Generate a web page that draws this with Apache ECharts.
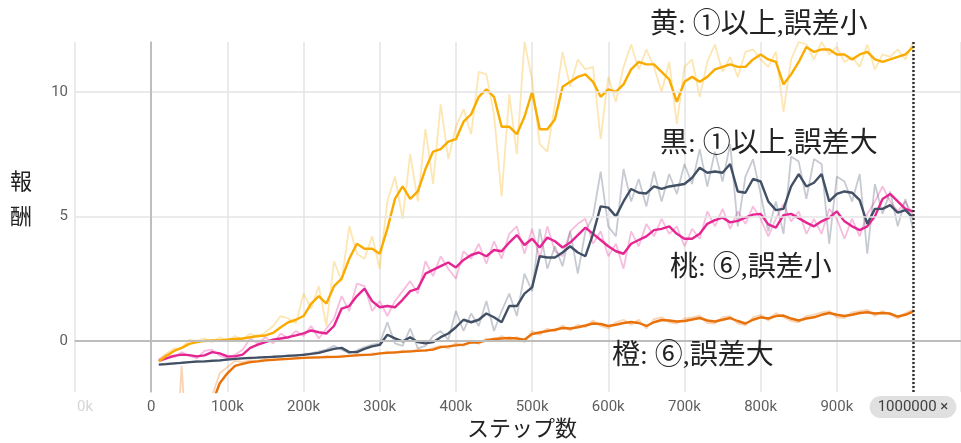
<!DOCTYPE html>
<html>
<head>
<meta charset="utf-8">
<script src="https://cdn.jsdelivr.net/npm/echarts@6/dist/echarts.min.js"></script>
<style>
  html, body { margin: 0; padding: 0; background: #fff; }
  #chart { width: 961px; height: 443px; }
</style>
</head>
<body>
<div id="chart"></div>
<script>
// ステップ (k)
const steps = [10,20,30,40,50,60,70,80,90,100,110,120,130,140,150,160,170,180,190,200,
  210,220,230,240,250,260,270,280,290,300,310,320,330,340,350,360,370,380,390,400,
  410,420,430,440,450,460,470,480,490,500,510,520,530,540,550,560,570,580,590,600,
  610,620,630,640,650,660,670,680,690,700,710,720,730,740,750,760,770,780,790,800,
  810,820,830,840,850,860,870,880,890,900,910,920,930,940,950,960,970,980,990,1000]

const xTicksK = [-100,0,100,200,300,400,500,600,700,800,900,1000]
const yTicks = [0, 5, 10]

// 黄: ①以上,誤差小
const yellowSmooth = [-0.82,-0.6,-0.4,-0.28,-0.12,-0.05,0.0,0.02,0.02,0.05,
  0.08,0.1,0.15,0.2,0.22,0.32,0.55,0.75,0.85,1.0,
  1.5,1.8,1.5,2.2,2.5,3.3,3.9,3.7,3.7,3.5,
  4.5,5.7,6.2,5.7,6.0,6.9,7.6,7.7,8.0,8.1,
  8.8,9.1,9.8,10.1,9.8,8.6,8.6,8.3,9.0,10.0,
  8.5,8.5,8.9,10.2,10.4,10.6,10.7,10.4,9.8,10.1,
  10.0,10.3,10.9,11.2,11.1,11.1,10.8,10.5,9.6,10.4,
  10.6,10.4,10.6,10.9,11.0,11.1,11.0,11.0,11.3,11.5,
  11.3,11.2,10.3,10.7,11.2,11.8,11.6,11.7,11.7,11.5,
  11.5,11.3,11.5,11.6,11.3,11.2,11.3,11.4,11.5,11.8]
const yellowRaw = [-0.75,-0.5,-0.3,-0.3,0.05,0.0,0.1,-0.05,0.15,0.0,
  0.2,0.05,0.3,0.15,0.35,0.6,1.0,0.9,0.7,1.9,
  1.3,2.2,0.6,3.2,2.4,4.6,3.5,3.3,4.2,2.9,
  5.6,6.6,4.9,7.5,5.6,8.5,6.3,9.5,7.3,8.6,
  9.3,8.3,10.8,10.7,9.1,5.8,9.9,7.5,12.0,10.5,
  7.9,7.6,9.5,11.6,10.2,11.3,10.9,11.0,8.1,10.6,
  9.6,11.0,11.9,10.9,11.7,11.0,10.0,11.2,8.7,11.0,
  11.3,9.8,11.2,11.9,10.8,11.4,10.6,11.6,11.7,11.3,
  11.0,11.6,9.2,11.3,12.0,11.9,11.3,12.0,11.5,11.8,
  11.2,11.4,11.0,11.9,10.9,11.5,11.4,11.7,11.3,12.0]

// 黒: ①以上,誤差大
const blackSmooth = [-0.95,-0.93,-0.9,-0.88,-0.85,-0.83,-0.82,-0.8,-0.78,-0.75,
  -0.72,-0.7,-0.68,-0.67,-0.65,-0.64,-0.62,-0.6,-0.58,-0.56,
  -0.52,-0.48,-0.4,-0.32,-0.28,-0.45,-0.45,-0.32,-0.22,-0.16,
  0.25,0.1,-0.02,0.15,-0.05,-0.1,-0.05,0.15,0.3,0.55,
  0.85,0.75,0.85,1.1,0.95,0.75,1.4,1.4,1.9,2.15,
  3.4,3.35,3.35,3.55,3.8,3.55,3.4,4.3,5.4,5.35,
  5.0,5.6,6.1,5.95,5.92,6.2,6.1,6.2,6.25,6.3,
  6.55,6.95,6.75,6.8,6.75,7.1,6.0,5.95,6.5,6.4,
  5.6,5.25,5.3,6.2,6.7,6.2,6.35,6.7,5.6,5.9,
  6.0,5.95,5.65,4.7,5.3,5.3,5.45,5.15,5.25,4.95]
const blackRaw = [-0.95,-0.9,-0.92,-0.85,-0.86,-0.8,-0.83,-0.77,-0.8,-0.72,
  -0.74,-0.68,-0.7,-0.64,-0.66,-0.6,-0.63,-0.57,-0.6,-0.52,
  -0.5,-0.42,-0.35,-0.2,-0.35,-0.5,-0.38,-0.25,-0.15,-0.1,
  0.75,-0.1,-0.2,0.5,-0.3,-0.2,0.2,0.4,0.05,1.2,
  0.4,1.1,0.6,1.6,0.4,1.2,1.9,1.0,2.7,2.0,
  4.5,2.9,3.8,3.0,4.4,2.7,4.4,5.0,6.8,4.6,
  4.2,6.9,5.6,6.5,5.4,6.8,5.6,6.7,5.9,7.1,
  6.3,7.7,6.2,7.6,6.4,7.9,4.6,6.6,7.3,5.9,
  4.4,5.6,4.3,7.4,7.2,5.7,7.3,7.1,3.9,6.6,
  6.4,5.6,6.7,3.5,6.3,5.1,6.0,4.6,5.7,4.5]

// 桃: ⑥,誤差小
const pinkSmooth = [-0.8,-0.7,-0.6,-0.55,-0.57,-0.62,-0.58,-0.45,-0.5,-0.62,
  -0.62,-0.55,-0.28,-0.15,-0.05,0.05,0.1,0.15,0.22,0.3,
  0.42,0.35,0.3,0.6,1.3,1.4,1.8,2.1,1.6,1.35,
  1.4,1.35,1.65,2.0,2.1,2.7,2.85,3.0,3.15,2.95,
  3.25,3.45,3.55,3.4,3.65,3.6,3.95,4.25,3.85,4.1,
  3.75,4.15,4.0,3.75,3.95,4.25,4.55,4.3,4.05,3.8,
  3.6,3.5,3.9,4.05,4.2,4.45,4.5,4.6,4.3,4.1,
  4.1,4.3,4.7,4.85,4.95,4.76,4.82,4.95,5.07,5.1,
  4.68,4.55,5.05,5.1,4.93,4.75,4.6,4.8,4.95,5.2,
  4.8,4.6,4.45,4.6,5.0,5.7,5.9,5.6,5.3,5.2]
const pinkRaw = [-0.75,-0.55,-0.65,-0.45,-0.6,-0.7,-0.4,-0.35,-0.6,-0.7,
  -0.55,-0.35,0.1,-0.1,0.15,-0.1,0.3,0.1,0.4,0.2,
  0.6,0.1,0.5,0.9,1.8,1.2,2.3,2.2,1.2,1.6,
  1.0,1.6,2.0,2.4,1.9,3.2,2.6,3.4,2.9,2.5,
  3.6,3.3,3.9,3.1,4.0,3.3,4.3,4.6,3.5,4.5,
  3.3,4.6,3.6,3.4,4.4,4.7,4.9,3.9,4.4,3.4,
  3.9,2.9,4.4,3.8,4.7,4.2,4.9,4.3,4.6,3.8,
  4.5,4.1,5.2,4.6,5.3,4.5,5.2,4.7,5.4,4.9,
  4.2,4.9,5.5,4.8,5.2,4.3,4.9,4.3,5.3,4.9,
  4.1,4.9,4.2,5.1,5.6,6.2,5.6,5.2,5.6,5.0]

// 橙: ⑥,誤差大
const orangeSmooth = [-7,-6.5,-6,-5.5,-5,-4.2,-3.4,-2.5,-1.7,-1.3,
  -1.0,-0.92,-0.85,-0.82,-0.78,-0.76,-0.74,-0.72,-0.7,-0.68,
  -0.67,-0.66,-0.65,-0.64,-0.63,-0.6,-0.58,-0.56,-0.55,-0.5,
  -0.48,-0.46,-0.44,-0.42,-0.4,-0.38,-0.35,-0.25,-0.22,-0.18,
  -0.15,-0.06,-0.06,0.02,0.08,0.1,0.12,0.1,0.05,0.28,
  0.34,0.4,0.45,0.52,0.5,0.55,0.62,0.7,0.68,0.6,
  0.65,0.72,0.76,0.72,0.6,0.75,0.84,0.82,0.78,0.8,
  0.86,0.92,0.82,0.78,0.85,0.92,0.8,0.7,0.85,0.95,
  0.9,1.0,1.02,0.9,0.82,0.9,0.95,1.05,1.12,1.05,
  1.0,1.05,1.12,1.15,1.1,1.12,1.1,0.98,1.05,1.18]
const orangeRaw = [-8,-7,-6.3,-1.0,-5.8,-4.4,-3.3,-2.2,-1.3,-1.05,
  -0.8,-0.85,-0.78,-0.8,-0.72,-0.75,-0.7,-0.73,-0.66,-0.69,
  -0.64,-0.68,-0.6,-0.66,-0.58,-0.62,-0.52,-0.58,-0.5,-0.52,
  -0.42,-0.5,-0.38,-0.45,-0.34,-0.42,-0.28,-0.2,-0.3,-0.08,
  -0.2,0.02,-0.12,0.1,0.0,0.2,0.05,0.15,-0.05,0.4,
  0.25,0.5,0.38,0.62,0.42,0.65,0.55,0.82,0.6,0.5,
  0.75,0.85,0.65,0.85,0.5,0.88,0.95,0.75,0.7,0.9,
  0.95,1.02,0.72,0.7,0.95,1.0,0.7,0.62,0.95,1.05,
  0.82,1.12,0.95,0.8,0.75,1.0,1.05,1.15,1.2,0.95,
  0.92,1.15,1.2,1.25,1.0,1.2,1.05,0.9,1.12,1.25]

const runs = [
  { name: "orange", color: "#e8710a", smooth: orangeSmooth, raw: orangeRaw },
  { name: "pink", color: "#e52592", smooth: pinkSmooth, raw: pinkRaw },
  { name: "black", color: "#425066", smooth: blackSmooth, raw: blackRaw },
  { name: "yellow", color: "#f9ab00", smooth: yellowSmooth, raw: yellowRaw }
]

const labelFont = "Roboto, 'Noto Sans', sans-serif"
const noteFont = "'Liberation Serif', 'Noto Sans CJK JP', serif"

const toPoints = (arr) => steps.map((s, i) => [s, arr[i]])

const chart = echarts.init(document.getElementById("chart"), null, { renderer: "canvas" })

const series = []

// 生データ（薄い線）
runs.forEach((r) => {
  series.push({
    name: r.name + "-raw",
    type: "line",
    data: toPoints(r.raw),
    showSymbol: false,
    silent: true,
    lineStyle: { color: r.color, width: 1.8, opacity: 0.3 },
    z: 2
  })
})

// 平滑化した線
runs.forEach((r) => {
  series.push({
    name: r.name,
    type: "line",
    data: toPoints(r.smooth),
    showSymbol: false,
    silent: true,
    lineStyle: { color: r.color, width: 2.4 },
    z: 3
  })
})

// グリッド線と 1000000 の点線
series.push({
  type: "line",
  data: [],
  silent: true,
  z: 1,
  markLine: {
    silent: true,
    symbol: "none",
    label: { show: false },
    animation: false,
    data: [
      { yAxis: 5, lineStyle: { color: "#e4e4e4", width: 1.5, type: "solid" } },
      { yAxis: 10, lineStyle: { color: "#e4e4e4", width: 1.5, type: "solid" } },
      { yAxis: 0, lineStyle: { color: "#bdbdbd", width: 1.8, type: "solid" } },
      { xAxis: 0, lineStyle: { color: "#bdbdbd", width: 1.8, type: "solid" } }
    ]
  }
})
series.push({
  type: "line",
  data: [],
  silent: true,
  z: 5,
  markLine: {
    silent: true,
    symbol: "none",
    label: { show: false },
    animation: false,
    data: [{ xAxis: 1000, lineStyle: { color: "#333", width: 2.5, type: [2, 2] } }]
  }
})

const option = {
  animation: false,
  backgroundColor: "#fff",
  grid: { left: 75, right: 0, top: 42, bottom: 51, containLabel: false },
  xAxis: {
    type: "value",
    min: -100,
    max: 1063,
    interval: 100,
    axisLine: { show: true, lineStyle: { color: "#bdbdbd", width: 1.5 } },
    axisTick: { show: false },
    splitLine: { show: true, lineStyle: { color: "#e4e4e4", width: 1.5 } },
    axisLabel: {
      show: true,
      margin: 4,
      showMaxLabel: false,
      formatter: (v) => {
        if (xTicksK.indexOf(v) < 0) return ""
        if (v === -100) return "{f|0k}"
        if (v === 0) return "{n|0}"
        if (v === 1000) return "{chip|1000000 ×}"
        return "{n|" + v + "k}"
      },
      rich: {
        n: { color: "#5f5f5f", fontSize: 15, fontFamily: labelFont, padding: [4, 0, 0, 0] },
        f: { color: "#d6d6d6", fontSize: 15, fontFamily: labelFont, padding: [4, 0, 0, 20] },
        chip: {
          backgroundColor: "#e0e0e0",
          borderRadius: 11,
          padding: [4, 8, 3, 8],
          color: "#424242",
          fontSize: 15,
          fontFamily: labelFont
        }
      }
    }
  },
  yAxis: {
    type: "value",
    min: -2.05,
    max: 12,
    axisLine: { show: true, lineStyle: { color: "#bdbdbd", width: 1.5 } },
    axisTick: { show: false, customValues: yTicks },
    splitLine: { show: false },
    axisLabel: {
      customValues: yTicks,
      margin: 7,
      fontFamily: labelFont,
      fontSize: 15,
      color: "#5f5f5f"
    }
  },
  graphic: [
    { type: "text", x: 650, y: 26, z: 10, style: { text: "黄: ①以上,誤差小", font: "28px " + noteFont, fill: "#222", verticalAlign: "middle" } },
    { type: "text", x: 660, y: 145, z: 10, style: { text: "黒: ①以上,誤差大", font: "28px " + noteFont, fill: "#222", verticalAlign: "middle" } },
    { type: "text", x: 670, y: 269, z: 10, style: { text: "桃: ⑥,誤差小", font: "28px " + noteFont, fill: "#222", verticalAlign: "middle" } },
    { type: "text", x: 612, y: 357, z: 10, style: { text: "橙: ⑥,誤差大", font: "28px " + noteFont, fill: "#222", verticalAlign: "middle" } },
    { type: "text", x: 10, y: 166, z: 10, style: { text: "報\n酬", font: "22px " + noteFont, lineHeight: 35, fill: "#222" } },
    { type: "text", x: 522, y: 430, z: 10, style: { text: "ステップ数", font: "22px " + noteFont, fill: "#222", align: "center", verticalAlign: "middle" } }
  ],
  series: series
}

chart.setOption(option)
</script>
</body>
</html>
